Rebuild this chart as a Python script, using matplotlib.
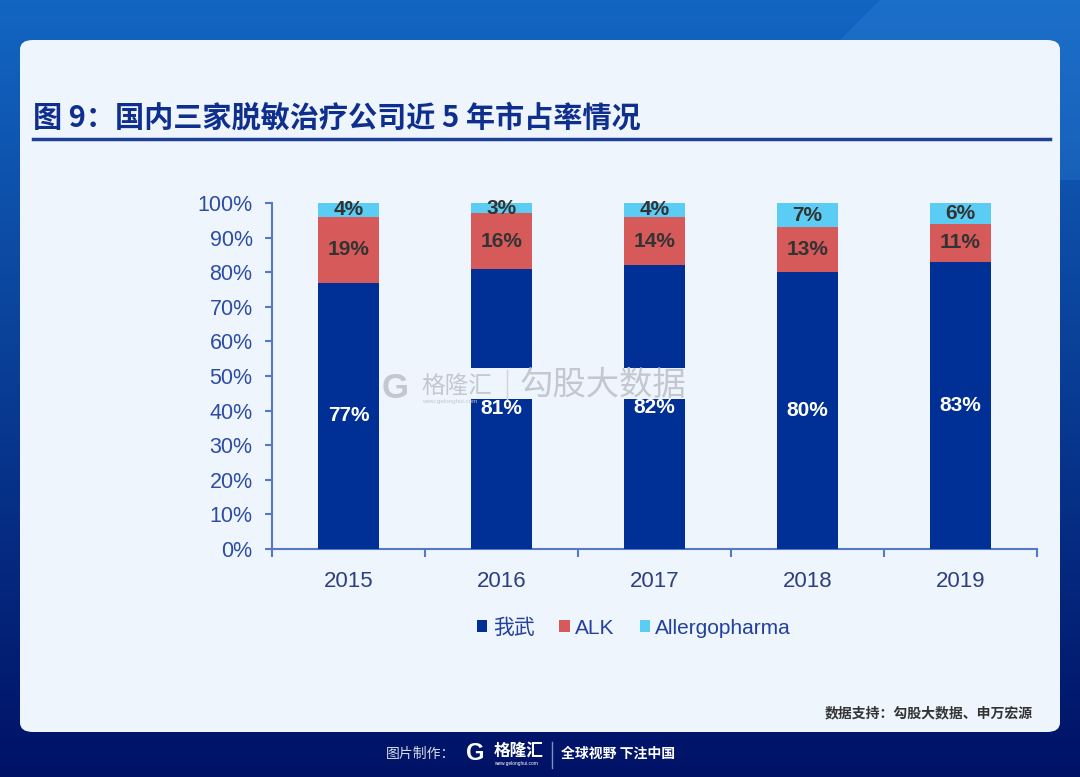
import matplotlib
matplotlib.use('Agg')
import matplotlib.pyplot as plt
from matplotlib.patches import FancyBboxPatch, Rectangle, Polygon
import numpy as np

plt.rcParams['font.family'] = ['Liberation Sans', 'Noto Sans CJK SC', 'DejaVu Sans']

years = ['2015', '2016', '2017', '2018', '2019']
woowu = [77, 81, 82, 80, 83]
alk = [19, 16, 14, 13, 11]
allergo = [4, 3, 4, 7, 6]
series_names = ['我武', 'ALK', 'Allergopharma']
yticks = [0, 10, 20, 30, 40, 50, 60, 70, 80, 90, 100]

c_blue = '#002F95'
c_red = '#D65A5A'
c_cyan = '#5BCDF4'
c_axis = '#5579C9'
c_tick = '#2D4CA5'
c_card = '#EEF5FC'
c_wm = '#C3C8D0'

W, H = 1080, 777
fig = plt.figure(figsize=(W / 100, H / 100), dpi=100)

# background gradient
bg = fig.add_axes([0, 0, 1, 1], zorder=-10)
grad = np.linspace(0, 1, 256)[:, None]
top = np.array([0.07, 0.40, 0.76])
bot = np.array([0.0, 0.07, 0.40])
img = top[None, None, :] * (1 - grad[:, :, None]) + bot[None, None, :] * grad[:, :, None]
bg.imshow(img, aspect='auto', extent=[0, 1, 0, 1])
bg.add_patch(Polygon([(880 / W, 1), (1, 1), (1, 1 - 180 / H), (700 / W, 1 - 180 / H)],
                     closed=True, facecolor='#3A8CE0', alpha=0.25, edgecolor='none'))
bg.set_xlim(0, 1)
bg.set_ylim(0, 1)
bg.axis('off')

# card
card = FancyBboxPatch((20 / W, 1 - 732 / H), 1040 / W, 692 / H,
                      boxstyle='round,pad=0,rounding_size=0.012',
                      transform=fig.transFigure, facecolor=c_card, edgecolor='none',
                      zorder=-5)
fig.patches.append(card)

fig.text(33 / W, 1 - 118 / H, '图 9：国内三家脱敏治疗公司近 5 年市占率情况',
         family=['Noto Sans CJK SC'], fontweight='heavy', fontsize=21,
         color='#0F2F8F', va='center', ha='left')
fig.add_artist(plt.Line2D([33 / W, 1050 / W], [1 - 139 / H, 1 - 139 / H],
                          transform=fig.transFigure, color='#1F3F96', lw=2.5))

ax = fig.add_axes([272 / W, 1 - 549 / H, 765 / W, 346 / H])
ax.set_facecolor('none')
x = np.arange(len(years))
bw = 0.4
b1 = ax.bar(x, woowu, bw, color=c_blue, label=series_names[0], zorder=3)
b2 = ax.bar(x, alk, bw, bottom=woowu, color=c_red, label=series_names[1], zorder=3)
bottoms3 = [a + b for a, b in zip(woowu, alk)]
b3 = ax.bar(x, allergo, bw, bottom=bottoms3, color=c_cyan, label=series_names[2], zorder=3)

# watermark band over the bars
ftr = fig.transFigure
ax.add_patch(Rectangle((381 / W, 1 - 399 / H), 320 / W, 31 / H, transform=ftr,
                       facecolor=c_card, edgecolor='none', zorder=3.5, clip_on=False))
ax.text(382 / W, 1 - 388 / H, 'G', transform=ftr, fontsize=25, fontweight='bold',
        color=c_wm, va='center', ha='left', zorder=3.6, clip_on=False)
ax.text(421 / W, 1 - 386 / H, '格隆汇', transform=ftr, family=['Noto Sans CJK SC'],
        fontsize=17, color=c_wm, va='center', ha='left', zorder=3.6, clip_on=False)
ax.text(422 / W, 1 - 402 / H, 'www.gelonghui.com', transform=ftr, fontsize=4.5,
        color=c_wm, va='center', ha='left', zorder=3.6, clip_on=False)
ax.add_line(plt.Line2D([507 / W, 507 / W], [1 - 370 / H, 1 - 399 / H], transform=ftr,
                       color='#D0D4DA', lw=1, zorder=3.6, clip_on=False))
ax.text(520 / W, 1 - 386 / H, '勾股大数据', transform=ftr, family=['Noto Sans CJK SC'],
        fontsize=24, color=c_wm, va='center', ha='left', zorder=3.6, clip_on=False)

for i in range(len(years)):
    ax.text(x[i], woowu[i] / 2, f'{woowu[i]}%', ha='center', va='center',
            color='white', fontweight='bold', fontsize=15, zorder=4)
    ax.text(x[i], woowu[i] + alk[i] / 2, f'{alk[i]}%', ha='center', va='center',
            color='#333333', fontweight='bold', fontsize=15, zorder=4)
    ax.text(x[i], bottoms3[i] + allergo[i] / 2, f'{allergo[i]}%', ha='center', va='center',
            color='#333333', fontweight='bold', fontsize=15, zorder=4)

ax.set_xlim(-0.5, len(years) - 0.5)
ax.set_ylim(0, 100)
ax.set_yticks(yticks)
ax.set_yticklabels([f'{v}%' for v in yticks])
ax.set_xticks(np.arange(len(years) + 1) - 0.5)
ax.set_xticklabels([])
ax.set_xticks(x, minor=True)
ax.set_xticklabels(years, minor=True)
ax.tick_params(axis='x', which='major', length=6, width=1.5, color=c_axis, direction='out')
ax.tick_params(axis='x', which='minor', length=0, pad=16, labelsize=16, labelcolor='#2D3F80')
ax.tick_params(axis='y', length=5, width=1.5, color=c_axis, labelsize=15.5,
               labelcolor=c_tick, pad=9)
for s in ['top', 'right']:
    ax.spines[s].set_visible(False)
for s in ['left', 'bottom']:
    ax.spines[s].set_color(c_axis)
    ax.spines[s].set_linewidth(1.5)

leg = fig.legend(handles=[b1, b2, b3], labels=series_names, loc='center',
                 bbox_to_anchor=(634 / W, 1 - 628 / H), ncol=3, frameon=False,
                 fontsize=15, handlelength=0.5, handleheight=0.5, handletextpad=0.25,
                 columnspacing=1.2)
for t in leg.get_texts():
    t.set_color('#23409E')

fig.text(1033 / W, 1 - 713 / H, '数据支持：勾股大数据、申万宏源', family=['Noto Sans CJK SC'],
         fontsize=10, fontweight='bold', color='#333333', ha='right', va='center')

# footer
fig.text(455 / W, 1 - 754 / H, '图片制作：', family=['Noto Sans CJK SC'], fontsize=10,
         color='#D8DCEA', ha='right', va='center')
fig.text(466 / W, 1 - 754 / H, 'G', fontsize=17, fontweight='bold', color='white',
         ha='left', va='center')
fig.text(494 / W, 1 - 751 / H, '格隆汇', family=['Noto Sans CJK SC'], fontsize=12,
         fontweight='bold', color='white', ha='left', va='center')
fig.text(494 / W, 1 - 764 / H, 'www.gelonghui.com', fontsize=3.5, color='white',
         ha='left', va='center')
fig.add_artist(plt.Line2D([552 / W, 552 / W], [1 - 742 / H, 1 - 768 / H],
                          transform=fig.transFigure, color='#8090C0', lw=1))
fig.text(561 / W, 1 - 754 / H, '全球视野 下注中国', family=['Noto Sans CJK SC'], fontsize=10,
         fontweight='bold', color='white', ha='left', va='center')

fig.savefig('out.png', dpi=100)
